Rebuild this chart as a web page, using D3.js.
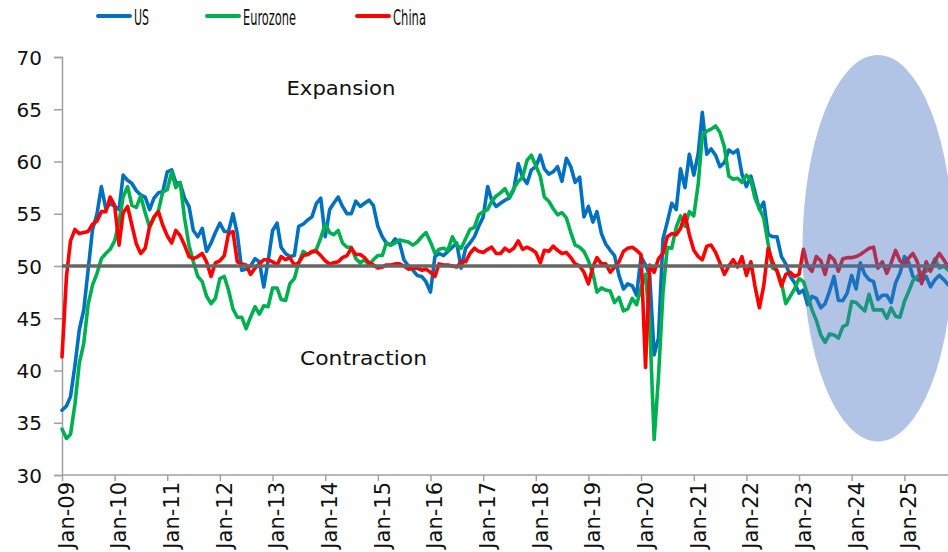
<!DOCTYPE html>
<html><head><meta charset="utf-8">
<script src="https://cdn.jsdelivr.net/npm/d3@7"></script>
<style>body{margin:0;background:#fff}svg{display:block}</style>
</head><body><svg id="c" width="948" height="552"></svg>
<script>
// ---- data (monthly, starting Jan 2009) ----
const startYear = 2009;
const usPMI = [
 36.2,36.6,37.5,40.5,43.9,45.8,49.6,53.5,55.0,57.6,55.5,56.0,
 55.7,55.4,58.7,58.2,57.9,57.2,56.8,56.6,55.4,56.5,57.0,57.1,
 59.0,59.2,58.0,57.9,56.5,55.7,53.4,52.8,53.6,51.4,52.2,53.2,
 54.1,53.3,53.3,55.0,53.1,49.6,49.7,50.0,50.7,50.4,48.0,50.5,
 53.4,54.1,51.8,51.2,50.9,51.0,53.8,54.0,54.4,54.7,56.0,56.5,
 52.8,55.4,56.0,56.6,55.7,55.0,55.0,56.2,55.7,56.0,56.3,55.8,
 53.8,52.8,52.2,52.0,52.6,52.2,50.6,50.0,49.6,49.1,49.0,48.5,
 47.5,50.9,51.2,51.0,51.4,51.8,52.2,49.8,51.7,52.2,52.8,53.8,
 54.7,57.6,56.3,55.7,56.0,56.3,56.5,57.3,59.8,58.5,57.9,59.2,
 59.5,60.6,59.3,58.8,59.0,59.5,58.1,60.3,59.5,58.0,58.5,54.7,
 55.7,54.2,55.2,53.1,52.1,51.5,51.0,49.1,47.8,48.3,48.1,47.2,
 50.9,50.1,49.1,41.5,43.1,52.6,54.2,56.0,55.4,59.3,57.5,60.7,
 58.7,60.8,64.7,60.7,61.2,60.6,59.5,59.9,61.1,60.8,61.1,58.8,
 57.6,58.6,57.1,55.4,56.1,53.0,52.8,52.8,50.9,50.2,49.0,48.4,
 47.4,47.7,46.3,47.1,46.9,46.0,46.4,47.6,49.0,46.7,46.7,47.4,
 49.1,47.8,50.3,49.2,48.7,48.5,46.8,47.2,47.2,46.5,48.4,49.3,
 50.9,50.3,49.0,48.7,48.5,49.0,48.0,48.7,49.1,48.7,48.2
];
const ezPMI = [
 34.4,33.5,33.9,36.8,40.7,42.6,46.3,48.2,49.3,50.7,51.2,51.6,
 52.4,54.2,56.6,57.6,55.8,55.6,56.7,55.1,53.7,54.6,55.3,57.1,
 57.3,59.0,57.5,58.0,54.6,52.0,50.4,49.0,48.5,47.1,46.4,46.9,
 48.8,49.0,47.7,45.9,45.1,45.1,44.0,45.1,46.1,45.4,46.2,46.1,
 47.9,47.9,46.8,46.7,48.3,48.8,50.3,51.4,51.1,51.3,51.6,52.7,
 54.0,53.2,53.0,53.4,52.2,51.8,51.8,50.7,50.3,50.6,50.1,50.6,
 51.0,51.0,52.2,52.0,52.2,52.5,52.4,52.3,52.0,52.3,52.8,53.2,
 52.3,51.2,51.6,51.7,51.5,52.8,52.0,51.7,52.6,53.5,53.7,54.9,
 55.2,55.4,56.2,56.7,57.0,57.4,56.6,57.4,58.1,58.5,60.1,60.6,
 59.6,58.6,56.6,56.2,55.5,54.9,55.1,54.6,53.2,52.0,51.8,51.4,
 50.5,49.3,47.5,47.9,47.7,47.6,46.5,47.0,45.7,45.9,46.9,46.3,
 47.9,49.2,44.5,33.4,39.4,47.4,51.8,51.7,53.7,54.8,53.8,55.2,
 54.8,57.9,62.5,62.9,63.1,63.4,62.8,61.4,58.6,58.3,58.4,58.0,
 58.7,58.2,56.5,55.5,54.6,52.1,49.8,49.6,48.4,46.4,47.1,47.8,
 48.8,48.5,47.3,45.8,44.8,43.4,42.7,43.5,43.4,43.1,44.2,44.4,
 46.6,46.5,46.1,45.7,47.3,45.8,45.8,45.8,45.0,46.0,45.2,45.1,
 46.6,47.6,48.6,49.0,49.4,49.5,49.8,50.7,49.8,50.0,49.6
];
const chinaPMI = [
 41.3,49.0,52.4,53.5,53.1,53.2,53.3,54.0,54.3,55.2,55.2,56.6,
 55.8,52.0,55.1,55.7,53.9,52.1,51.2,51.7,53.8,54.7,55.2,53.9,
 52.9,52.2,53.4,52.9,52.0,50.9,50.7,50.9,51.2,50.4,49.0,50.3,
 50.5,51.0,53.1,53.3,50.4,50.2,50.1,49.2,49.8,50.2,50.6,50.6,
 50.4,50.1,50.9,50.6,50.8,50.1,50.3,51.0,51.1,51.4,51.4,51.0,
 50.5,50.2,50.3,50.4,50.8,51.0,51.7,51.1,51.1,50.8,50.3,50.1,
 49.8,49.9,50.1,50.1,50.2,50.2,50.0,49.7,49.8,49.8,49.6,49.7,
 49.4,49.0,50.2,50.1,50.1,50.0,49.9,50.4,50.4,51.2,51.7,51.4,
 51.3,51.6,51.8,51.2,51.2,51.7,51.4,51.7,52.4,51.6,51.8,51.6,
 51.3,50.3,51.5,51.4,51.9,51.5,51.2,51.3,50.8,50.2,50.0,49.4,
 48.3,49.9,50.8,50.2,50.2,49.4,49.9,50.4,51.4,51.7,51.8,51.5,
 51.1,40.3,50.1,49.4,50.7,51.2,52.8,53.1,53.0,53.6,54.9,53.0,
 51.5,50.9,50.6,51.9,52.0,51.3,50.3,49.2,50.0,50.6,49.9,50.9,
 49.1,50.4,48.1,46.0,48.1,51.7,50.4,49.5,48.1,49.2,49.4,49.0,
 49.2,51.6,50.0,49.5,50.9,50.5,49.2,51.0,50.6,49.5,50.7,50.8,
 50.8,50.9,51.1,51.4,51.7,51.8,49.8,50.4,49.3,50.3,51.5,50.5,
 50.1,50.8,51.2,50.4,48.3,50.4,49.5,50.5,51.2,50.6,49.9
];
const seriesNames = ["US","Eurozone","China"];
const seriesColors = ["#0070C0","#00B050","#FF0000"];
const yTicks = [30,35,40,45,50,55,60,65,70];
const xTickLabels = ["Jan-09","Jan-10","Jan-11","Jan-12","Jan-13","Jan-14","Jan-15","Jan-16",
  "Jan-17","Jan-18","Jan-19","Jan-20","Jan-21","Jan-22","Jan-23","Jan-24","Jan-25"];
const thresholdValue = 50;
const zoneLabels = ["Expansion","Contraction"];

// ---- drawing ----
const W = 948, H = 552;
const svg = d3.select("#c");
const font = "'DejaVu Sans', Verdana, sans-serif";
const monthDate = i => new Date(startYear, i, 1);

const x = d3.scaleTime()
  .domain([new Date(2009,0,1), new Date(2025,0,1)])
  .range([62, 904.4]);
const y = d3.scaleLinear().domain([30,70]).range([475,57]);

const axisColor = "#a0a0a0";

// y axis
const yAxis = svg.append("g").attr("transform","translate(62,0)")
  .call(d3.axisLeft(y).tickValues(yTicks).tickSize(8).tickPadding(12).tickFormat(d3.format("d")));
yAxis.select(".domain").attr("stroke",axisColor).attr("stroke-width",1.5);
yAxis.selectAll(".tick line").attr("stroke",axisColor).attr("stroke-width",1.5);
yAxis.selectAll(".tick text").attr("font-family",font).attr("font-size",20).attr("fill","#111").attr("dy","0.35em");

// x axis
const xTickDates = xTickLabels.map((_,i)=>new Date(startYear+i,0,1));
const xAxis = svg.append("g").attr("transform","translate(0,475)")
  .call(d3.axisBottom(x).tickValues(xTickDates).tickSize(6).tickFormat((d,i)=>xTickLabels[i]));
xAxis.select(".domain").remove();
xAxis.append("line").attr("x1",62).attr("x2",W).attr("y1",0).attr("y2",0)
  .attr("stroke",axisColor).attr("stroke-width",1.5);
xAxis.selectAll(".tick line").attr("stroke",axisColor).attr("stroke-width",1.5);
xAxis.selectAll(".tick text")
  .attr("font-family",font).attr("font-size",21).attr("fill","#111")
  .attr("text-anchor","end")
  .attr("transform","rotate(-90)")
  .attr("x",-7).attr("y",4).attr("dy","0.35em");

// zone labels
svg.append("text").attr("x",341).attr("y",95).attr("text-anchor","middle")
  .attr("font-family",font).attr("font-size",20).attr("fill","#111")
  .attr("textLength",109).attr("lengthAdjust","spacingAndGlyphs").text(zoneLabels[0]);
svg.append("text").attr("x",363.5).attr("y",365).attr("text-anchor","middle")
  .attr("font-family",font).attr("font-size",20).attr("fill","#111")
  .attr("textLength",127).attr("lengthAdjust","spacingAndGlyphs").text(zoneLabels[1]);

// series
const allSeries = [usPMI, ezPMI, chinaPMI];
const line = d3.line().x((d,i)=>x(monthDate(i))).y(d=>y(d));
const plot = svg.append("g");
allSeries.forEach((s,k)=>{
  plot.append("path").datum(s).attr("d",line).attr("fill","none")
    .attr("stroke",seriesColors[k]).attr("stroke-width",3.6)
    .attr("stroke-linejoin","round").attr("stroke-linecap","round");
});

// threshold line at 50
svg.append("line").attr("x1",62).attr("x2",W)
  .attr("y1",y(thresholdValue)).attr("y2",y(thresholdValue))
  .attr("stroke","#666").attr("stroke-width",3.5);

// highlight ellipse
const ecx = x(new Date(2024,6,1));
svg.append("ellipse")
  .attr("cx",ecx).attr("cy",y(51.7))
  .attr("rx",ecx - x(new Date(2023,0,25)))
  .attr("ry",y(33.2)-y(51.7))
  .attr("fill","#4472C4").attr("fill-opacity",0.42);

// legend
const legX = [98,207,357];
const legW = [15,53,33];
seriesNames.forEach((n,k)=>{
  svg.append("line").attr("x1",legX[k]).attr("x2",legX[k]+32).attr("y1",16).attr("y2",16)
    .attr("stroke",seriesColors[k]).attr("stroke-width",4).attr("stroke-linecap","round");
  svg.append("text").attr("x",legX[k]+36).attr("y",25).attr("font-family",font)
    .attr("font-size",21).attr("fill","#111")
    .attr("textLength",legW[k]).attr("lengthAdjust","spacingAndGlyphs").text(n);
});
</script></body></html>
